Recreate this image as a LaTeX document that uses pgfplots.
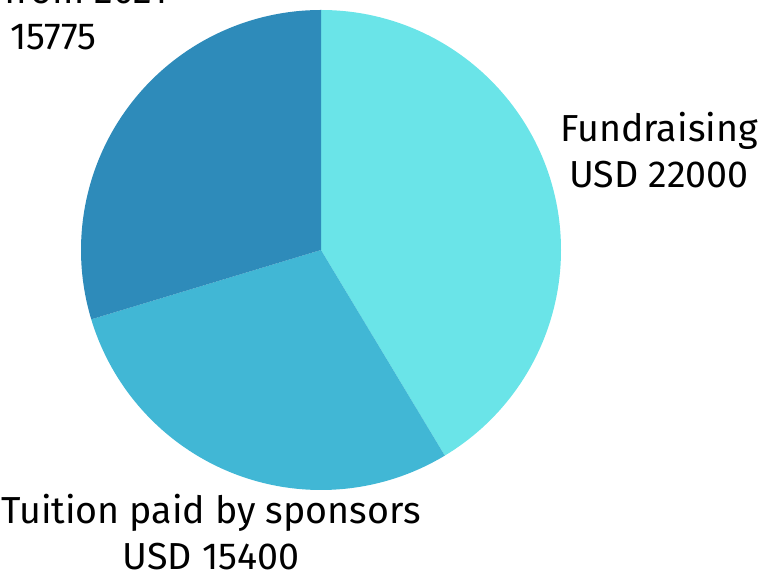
\documentclass[border=0pt]{standalone}
\usepackage{pgfplots}
\pgfplotsset{compat=1.18}
\usepackage{fontspec}
\setmainfont{Fira Sans}
\definecolor{cA}{RGB}{106,228,232}
\definecolor{cB}{RGB}{65,183,213}
\definecolor{cC}{RGB}{46,139,186}
% data
\def\vA{22000}% Fundraising
\def\vB{15400}% Tuition paid by sponsors
\def\vC{15775}% Balance from 2021
\edef\aA{\fpeval{90-360*\vA/(\vA+\vB+\vC)}}
\edef\aB{\fpeval{\aA-360*\vB/(\vA+\vB+\vC)}}
\begin{document}
\begin{tikzpicture}
\begin{axis}[x=0.5pt,y=0.5pt,xmin=0,xmax=761,ymin=-573,ymax=0,hide axis,clip=false]
\fill[cA] (axis cs:321,-250) -- ++(90:120pt) arc[start angle=90,end angle=\aA,radius=120pt] -- cycle;
\fill[cB] (axis cs:321,-250) -- ++(\aA:120pt) arc[start angle=\aA,end angle=\aB,radius=120pt] -- cycle;
\fill[cC] (axis cs:321,-250) -- ++(\aB:120pt) arc[start angle=\aB,end angle=-270,radius=120pt] -- cycle;
\node[align=center,font=\fontsize{18.8}{23}\selectfont] at (axis cs:659,-150) {Fundraising\\USD 22000};
\node[align=center,font=\fontsize{18.8}{23}\selectfont] at (axis cs:211,-532) {Tuition paid by sponsors\\USD 15400};
\node[align=center,font=\fontsize{18.8}{23}\selectfont] at (axis cs:14,-13) {Balance from 2021\\USD 15775};
\end{axis}
\pgfresetboundingbox
\useasboundingbox (current axis.south west) rectangle (current axis.north east);
\end{tikzpicture}
\end{document}
